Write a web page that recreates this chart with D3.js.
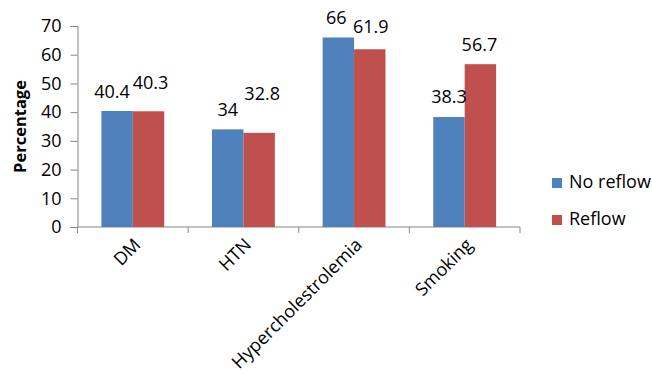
<!DOCTYPE html>
<html>
<head>
<meta charset="utf-8">
<script src="https://cdn.jsdelivr.net/npm/d3@7"></script>
<style>
    body { margin: 0; background: #ffffff; }
    svg text { font-family: "Open Sans", "Liberation Sans", sans-serif; fill: #000; }
</style>
</head>
<body>
<div id="chart"></div>
<script>
// Data
const categories = ["DM", "HTN", "Hypercholestrolemia", "Smoking"];
const seriesNames = ["No reflow", "Reflow"];
const noReflow = [40.4, 34, 66, 38.3];
const reflow = [40.3, 32.8, 61.9, 56.7];
const yTicks = [0, 10, 20, 30, 40, 50, 60, 70];

// label nudges Excel applied to avoid overlap (px)
const labelLift = {"No reflow": [0, 0, 0, 1], "Reflow": [9, 20, 3, 0]};
const labelShift = {"No reflow": [-5, 0, -2, 0], "Reflow": [2, 3, 1, -1]};
const colors = {"No reflow": "#4F81BD", "Reflow": "#C0504D"};

const width = 652, height = 374;
const margin = {top: 26, left: 77.5, right: 132, bottom: 147};

const svg = d3.select("#chart").append("svg")
    .attr("width", width)
    .attr("height", height);

const x0 = d3.scaleBand()
    .domain(categories)
    .range([margin.left, width - margin.right])
    .padding(0);

const x1 = d3.scaleBand()
    .domain(seriesNames)
    .range([0, x0.bandwidth()])
    .paddingInner(0)
    .paddingOuter(0.76);

const y = d3.scaleLinear()
    .domain([0, 70])
    .range([height - margin.bottom, margin.top]);

const axisColor = "#868686";

// Y axis
const yAxis = svg.append("g")
    .attr("transform", `translate(${margin.left}, 0)`)
    .call(d3.axisLeft(y).tickValues(yTicks).tickSize(7).tickPadding(9));
yAxis.select(".domain").attr("stroke", axisColor);
yAxis.selectAll(".tick line").attr("stroke", axisColor);
yAxis.selectAll(".tick text")
    .style("font-size", "18px")
    .attr("fill", "#000");

// Y axis title
svg.append("text")
    .attr("transform", `translate(26, ${(y(0) + y(70)) / 2}) rotate(-90)`)
    .attr("text-anchor", "middle")
    .style("font-size", "16.5px")
    .style("font-weight", "bold")
    .text("Percentage");

// X axis line + ticks at category boundaries
const xAxis = svg.append("g").attr("class", "x-axis");
xAxis.append("line")
    .attr("x1", margin.left).attr("x2", width - margin.right)
    .attr("y1", y(0)).attr("y2", y(0))
    .attr("stroke", axisColor);
const boundaries = categories.map(c => x0(c)).concat([x0(categories[categories.length - 1]) + x0.bandwidth()]);
xAxis.selectAll(".xtick")
    .data(boundaries)
    .enter().append("line")
    .attr("x1", d => d).attr("x2", d => d)
    .attr("y1", y(0)).attr("y2", y(0) + 6)
    .attr("stroke", axisColor);

// Category labels
svg.selectAll(".cat-label")
    .data(categories)
    .enter().append("text")
    .attr("class", "cat-label")
    .attr("text-anchor", "end")
    .style("font-size", "18px")
    .attr("transform", d => `translate(${x0(d) + x0.bandwidth() / 2 + 9}, ${y(0) + 19}) rotate(-45)`)
    .text(d => d);

// Bars
const rows = categories.map((c, i) => ({
    cat: c,
    values: [
        {series: "No reflow", value: noReflow[i], i: i},
        {series: "Reflow", value: reflow[i], i: i}
    ]
}));

const groups = svg.selectAll(".group")
    .data(rows)
    .enter().append("g")
    .attr("class", "group")
    .attr("transform", d => `translate(${x0(d.cat)}, 0)`);

groups.selectAll("rect")
    .data(d => d.values)
    .enter().append("rect")
    .attr("x", d => x1(d.series))
    .attr("y", d => y(d.value))
    .attr("width", x1.bandwidth())
    .attr("height", d => y(0) - y(d.value))
    .attr("fill", d => colors[d.series]);

groups.selectAll(".val")
    .data(d => d.values)
    .enter().append("text")
    .attr("class", "val")
    .attr("text-anchor", "middle")
    .style("font-size", "18px")
    .attr("x", d => x1(d.series) + x1.bandwidth() / 2 + labelShift[d.series][d.i])
    .attr("y", d => y(d.value) - 13 - labelLift[d.series][d.i])
    .text(d => d.value);

// Legend
const legend = svg.append("g")
    .attr("transform", `translate(552, 178)`);

seriesNames.forEach((s, i) => {
    legend.append("rect")
        .attr("x", 0)
        .attr("y", i * 37)
        .attr("width", 10)
        .attr("height", 10)
        .attr("fill", colors[s]);
    legend.append("text")
        .attr("x", 17)
        .attr("y", i * 37 + 10)
        .style("font-size", "18px")
        .text(s);
});
</script>
</body>
</html>
